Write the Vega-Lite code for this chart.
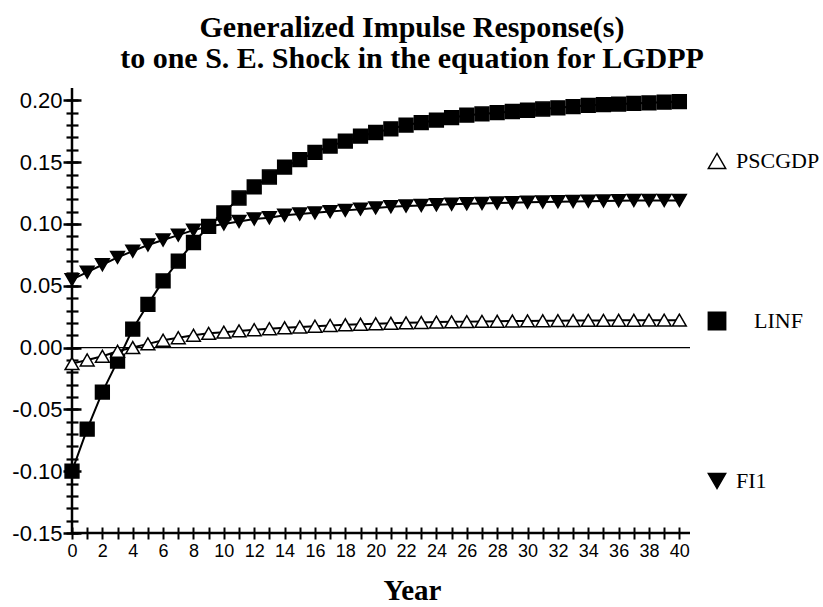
{
  "$schema": "https://vega.github.io/schema/vega-lite/v6.json",
  "width": 618,
  "height": 445,
  "autosize": {"type": "none"},
  "padding": {"left": 72, "top": 88, "right": 133, "bottom": 74},
  "background": "white",
  "title": {
    "text": ["Generalized Impulse Response(s)", "to one S. E. Shock in the equation for LGDPP"],
    "font": "Liberation Serif",
    "fontSize": 30,
    "fontWeight": "bold",
    "color": "black",
    "anchor": "middle",
    "dx": 31,
    "lineHeight": 31,
    "offset": 13
  },
  "config": {
    "view": {"stroke": null},
    "axis": {"labelFont": "Liberation Sans", "labelColor": "black", "tickColor": "black", "domainColor": "black", "grid": false}
  },
  "resolve": {"axis": {"x": "independent", "y": "independent"}},
  "data": {
    "values": [
      {"t": 0, "series": "LINF", "value": -0.100}, {"t": 1, "series": "LINF", "value": -0.066}, {"t": 2, "series": "LINF", "value": -0.036}, {"t": 3, "series": "LINF", "value": -0.011}, {"t": 4, "series": "LINF", "value": 0.015}, {"t": 5, "series": "LINF", "value": 0.035}, {"t": 6, "series": "LINF", "value": 0.054}, {"t": 7, "series": "LINF", "value": 0.070}, {"t": 8, "series": "LINF", "value": 0.085}, {"t": 9, "series": "LINF", "value": 0.098}, {"t": 10, "series": "LINF", "value": 0.109},
      {"t": 11, "series": "LINF", "value": 0.121}, {"t": 12, "series": "LINF", "value": 0.130}, {"t": 13, "series": "LINF", "value": 0.138}, {"t": 14, "series": "LINF", "value": 0.146}, {"t": 15, "series": "LINF", "value": 0.152}, {"t": 16, "series": "LINF", "value": 0.158}, {"t": 17, "series": "LINF", "value": 0.163}, {"t": 18, "series": "LINF", "value": 0.167}, {"t": 19, "series": "LINF", "value": 0.171}, {"t": 20, "series": "LINF", "value": 0.174},
      {"t": 21, "series": "LINF", "value": 0.177}, {"t": 22, "series": "LINF", "value": 0.180}, {"t": 23, "series": "LINF", "value": 0.182}, {"t": 24, "series": "LINF", "value": 0.184}, {"t": 25, "series": "LINF", "value": 0.186}, {"t": 26, "series": "LINF", "value": 0.188}, {"t": 27, "series": "LINF", "value": 0.189}, {"t": 28, "series": "LINF", "value": 0.190}, {"t": 29, "series": "LINF", "value": 0.191}, {"t": 30, "series": "LINF", "value": 0.192},
      {"t": 31, "series": "LINF", "value": 0.193}, {"t": 32, "series": "LINF", "value": 0.194}, {"t": 33, "series": "LINF", "value": 0.195}, {"t": 34, "series": "LINF", "value": 0.196}, {"t": 35, "series": "LINF", "value": 0.1965}, {"t": 36, "series": "LINF", "value": 0.197}, {"t": 37, "series": "LINF", "value": 0.1975}, {"t": 38, "series": "LINF", "value": 0.198}, {"t": 39, "series": "LINF", "value": 0.1985}, {"t": 40, "series": "LINF", "value": 0.199},
      {"t": 0, "series": "FI1", "value": 0.055}, {"t": 1, "series": "FI1", "value": 0.061}, {"t": 2, "series": "FI1", "value": 0.067}, {"t": 3, "series": "FI1", "value": 0.073}, {"t": 4, "series": "FI1", "value": 0.078}, {"t": 5, "series": "FI1", "value": 0.083}, {"t": 6, "series": "FI1", "value": 0.087}, {"t": 7, "series": "FI1", "value": 0.091}, {"t": 8, "series": "FI1", "value": 0.095}, {"t": 9, "series": "FI1", "value": 0.098}, {"t": 10, "series": "FI1", "value": 0.100},
      {"t": 11, "series": "FI1", "value": 0.102}, {"t": 12, "series": "FI1", "value": 0.104}, {"t": 13, "series": "FI1", "value": 0.105}, {"t": 14, "series": "FI1", "value": 0.107}, {"t": 15, "series": "FI1", "value": 0.108}, {"t": 16, "series": "FI1", "value": 0.109}, {"t": 17, "series": "FI1", "value": 0.110}, {"t": 18, "series": "FI1", "value": 0.111}, {"t": 19, "series": "FI1", "value": 0.112}, {"t": 20, "series": "FI1", "value": 0.113},
      {"t": 21, "series": "FI1", "value": 0.114}, {"t": 22, "series": "FI1", "value": 0.1145}, {"t": 23, "series": "FI1", "value": 0.115}, {"t": 24, "series": "FI1", "value": 0.1155}, {"t": 25, "series": "FI1", "value": 0.116}, {"t": 26, "series": "FI1", "value": 0.1163}, {"t": 27, "series": "FI1", "value": 0.1166}, {"t": 28, "series": "FI1", "value": 0.1169}, {"t": 29, "series": "FI1", "value": 0.1172}, {"t": 30, "series": "FI1", "value": 0.1175},
      {"t": 31, "series": "FI1", "value": 0.1178}, {"t": 32, "series": "FI1", "value": 0.118}, {"t": 33, "series": "FI1", "value": 0.1182}, {"t": 34, "series": "FI1", "value": 0.1184}, {"t": 35, "series": "FI1", "value": 0.1186}, {"t": 36, "series": "FI1", "value": 0.1188}, {"t": 37, "series": "FI1", "value": 0.119}, {"t": 38, "series": "FI1", "value": 0.119}, {"t": 39, "series": "FI1", "value": 0.119}, {"t": 40, "series": "FI1", "value": 0.119},
      {"t": 0, "series": "PSCGDP", "value": -0.013}, {"t": 1, "series": "PSCGDP", "value": -0.010}, {"t": 2, "series": "PSCGDP", "value": -0.007}, {"t": 3, "series": "PSCGDP", "value": -0.003}, {"t": 4, "series": "PSCGDP", "value": 0.000}, {"t": 5, "series": "PSCGDP", "value": 0.003}, {"t": 6, "series": "PSCGDP", "value": 0.006}, {"t": 7, "series": "PSCGDP", "value": 0.008}, {"t": 8, "series": "PSCGDP", "value": 0.010}, {"t": 9, "series": "PSCGDP", "value": 0.0115}, {"t": 10, "series": "PSCGDP", "value": 0.0125},
      {"t": 11, "series": "PSCGDP", "value": 0.0135}, {"t": 12, "series": "PSCGDP", "value": 0.0145}, {"t": 13, "series": "PSCGDP", "value": 0.0153}, {"t": 14, "series": "PSCGDP", "value": 0.016}, {"t": 15, "series": "PSCGDP", "value": 0.0167}, {"t": 16, "series": "PSCGDP", "value": 0.0173}, {"t": 17, "series": "PSCGDP", "value": 0.0179}, {"t": 18, "series": "PSCGDP", "value": 0.0184}, {"t": 19, "series": "PSCGDP", "value": 0.0189}, {"t": 20, "series": "PSCGDP", "value": 0.0193},
      {"t": 21, "series": "PSCGDP", "value": 0.0197}, {"t": 22, "series": "PSCGDP", "value": 0.020}, {"t": 23, "series": "PSCGDP", "value": 0.0203}, {"t": 24, "series": "PSCGDP", "value": 0.0206}, {"t": 25, "series": "PSCGDP", "value": 0.0208}, {"t": 26, "series": "PSCGDP", "value": 0.021}, {"t": 27, "series": "PSCGDP", "value": 0.0212}, {"t": 28, "series": "PSCGDP", "value": 0.0213}, {"t": 29, "series": "PSCGDP", "value": 0.0215}, {"t": 30, "series": "PSCGDP", "value": 0.0216},
      {"t": 31, "series": "PSCGDP", "value": 0.0217}, {"t": 32, "series": "PSCGDP", "value": 0.0218}, {"t": 33, "series": "PSCGDP", "value": 0.0219}, {"t": 34, "series": "PSCGDP", "value": 0.022}, {"t": 35, "series": "PSCGDP", "value": 0.022}, {"t": 36, "series": "PSCGDP", "value": 0.0221}, {"t": 37, "series": "PSCGDP", "value": 0.0221}, {"t": 38, "series": "PSCGDP", "value": 0.0222}, {"t": 39, "series": "PSCGDP", "value": 0.0222}, {"t": 40, "series": "PSCGDP", "value": 0.0222}
    ]
  },
  "layer": [
    {
      "data": {"values": [{}]},
      "mark": {"type": "rule", "strokeWidth": 1.3, "color": "black"},
      "encoding": {
        "y": {
          "datum": 0, "type": "quantitative",
          "scale": {"domain": [-0.15, 0.21], "nice": false, "zero": false},
          "axis": {
            "orient": "left", "offset": -6, "tickSize": 12, "tickWidth": 2.2,
            "values": [-0.15,-0.14,-0.13,-0.12,-0.11,-0.1,-0.09,-0.08,-0.07,-0.06,-0.05,-0.04,-0.03,-0.02,-0.01,0,0.01,0.02,0.03,0.04,0.05,0.06,0.07,0.08,0.09,0.1,0.11,0.12,0.13,0.14,0.15,0.16,0.17,0.18,0.19,0.2],
            "labels": false, "domain": false, "title": null
          }
        }
      }
    },
    {
      "data": {"values": [{}]},
      "mark": {"type": "rule", "strokeWidth": 2.5, "color": "black"},
      "encoding": {"y": {"datum": -0.15, "type": "quantitative", "axis": null}}
    },
    {
      "data": {"values": [{}]},
      "mark": {"type": "rule", "strokeWidth": 2.5, "color": "black"},
      "encoding": {"x": {"datum": 0, "type": "quantitative", "scale": {"domain": [0, 40.7], "nice": false, "zero": false}, "axis": null}}
    },
    {
      "mark": {"type": "line", "color": "black", "strokeWidth": 2},
      "encoding": {
        "x": {
          "field": "t", "type": "quantitative",
          "scale": {"domain": [0, 40.7], "nice": false, "zero": false},
          "axis": {
            "orient": "bottom", "offset": -6, "tickSize": 12, "tickWidth": 2,
            "values": [0,1,2,3,4,5,6,7,8,9,10,11,12,13,14,15,16,17,18,19,20,21,22,23,24,25,26,27,28,29,30,31,32,33,34,35,36,37,38,39,40],
            "labelExpr": "datum.value % 2 == 0 ? datum.label : ''",
            "labelFontSize": 18, "labelPadding": 3, "labelFlush": false, "labelOverlap": false, "labelBound": false,
            "domain": false,
            "title": "Year", "titleFont": "Liberation Serif", "titleFontSize": 29, "titleFontWeight": "bold", "titleColor": "black",
            "titleX": 340, "titleY": 72, "titleBaseline": "alphabetic", "titleAlign": "center", "titleAnchor": null
          }
        },
        "y": {
          "field": "value", "type": "quantitative",
          "scale": {"domain": [-0.15, 0.21], "nice": false, "zero": false},
          "axis": {
            "orient": "left", "offset": -9, "tickSize": 18, "tickWidth": 2.5,
            "values": [-0.15, -0.1, -0.05, 0, 0.05, 0.1, 0.15, 0.2],
            "labelExpr": "replace(format(datum.value, '.2f'), '\u2212', '-')",
            "labelFontSize": 22, "labelPadding": 1, "labelOverlap": false, "labelBound": false,
            "domain": false, "title": null
          }
        },
        "detail": {"field": "series"}
      }
    },
    {
      "mark": {"type": "point", "filled": true, "size": 190, "stroke": "black", "strokeWidth": 1.5, "opacity": 1},
      "encoding": {
        "x": {"field": "t", "type": "quantitative", "axis": null},
        "y": {"field": "value", "type": "quantitative", "axis": null},
        "shape": {
          "field": "series", "type": "nominal",
          "scale": {"domain": ["PSCGDP", "LINF", "FI1"], "range": ["triangle-up", "square", "triangle-down"]},
          "legend": {
            "orient": "none", "legendX": 634, "legendY": 62, "title": null, "padding": 0,
            "symbolSize": 300, "symbolStrokeColor": "black", "symbolStrokeWidth": 1.5, "symbolOpacity": 1,
            "labelFont": "Liberation Serif", "labelFontSize": 22, "labelColor": "black", "labelOffset": 8,
            "rowPadding": 137,
            "encode": {
              "symbols": {"update": {"stroke": {"value": "black"}, "strokeWidth": {"value": 1.5}}},
              "labels": {"update": {"dx": {"signal": "datum.value == 'LINF' ? 18 : 0"}}}
            }
          }
        },
        "fill": {
          "field": "series", "type": "nominal",
          "scale": {"domain": ["PSCGDP", "LINF", "FI1"], "range": ["white", "black", "black"]},
          "legend": {
            "orient": "none", "legendX": 634, "legendY": 62, "title": null, "padding": 0,
            "symbolSize": 300, "symbolStrokeColor": "black", "symbolStrokeWidth": 1.5, "symbolOpacity": 1,
            "labelFont": "Liberation Serif", "labelFontSize": 22, "labelColor": "black", "labelOffset": 8,
            "rowPadding": 137,
            "encode": {
              "symbols": {"update": {"stroke": {"value": "black"}, "strokeWidth": {"value": 1.5}}},
              "labels": {"update": {"dx": {"signal": "datum.value == 'LINF' ? 18 : 0"}}}
            }
          }
        }
      }
    }
  ]
}
